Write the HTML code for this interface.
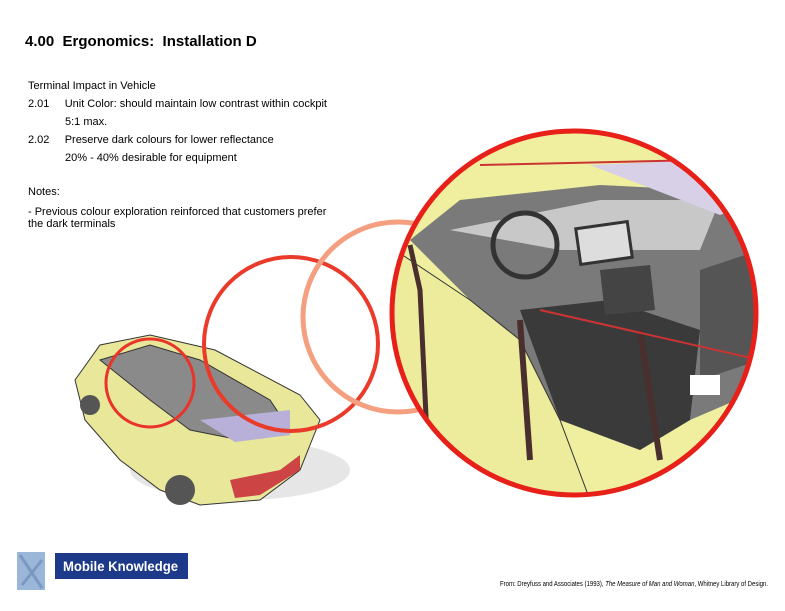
<!DOCTYPE html>
<html><head><meta charset="utf-8"><style>
body{margin:0;width:785px;height:611px;background:#fff;position:relative;overflow:hidden;font-family:"Liberation Sans",sans-serif;color:#000}
.t{position:absolute;font-size:11px;white-space:nowrap}
</style></head><body>
<div class="t" style="left:25px;top:33px;font-size:15px;font-weight:bold">4.00&nbsp; Ergonomics:&nbsp; Installation D</div>
<div class="t" style="left:28px;top:80px">Terminal Impact in Vehicle</div>
<div class="t" style="left:28px;top:98px">2.01&nbsp;&nbsp;&nbsp;&nbsp; Unit Color: should maintain low contrast within cockpit</div>
<div class="t" style="left:65px;top:116px">5:1 max.</div>
<div class="t" style="left:28px;top:134px">2.02&nbsp;&nbsp;&nbsp;&nbsp; Preserve dark colours for lower reflectance</div>
<div class="t" style="left:65px;top:152px">20% - 40% desirable for equipment</div>
<div class="t" style="left:28px;top:186px">Notes:</div>
<div class="t" style="left:28px;top:206px">- Previous colour exploration reinforced that customers prefer</div>
<div class="t" style="left:28px;top:218px">the dark terminals</div>
<svg width="785" height="611" style="position:absolute;left:0;top:0">
<defs><clipPath id="c"><circle cx="574" cy="313" r="182"/></clipPath></defs>
<ellipse cx="240" cy="470" rx="110" ry="30" fill="#e6e6e6"/>
<path d="M75,380 L100,345 L150,335 L215,350 L300,395 L320,420 L300,470 L260,500 L200,505 L160,490 L120,460 L85,420 Z" fill="#e8e79a" stroke="#333" stroke-width="1"/>
<path d="M100,360 L150,345 L200,360 L270,400 L290,430 L240,440 L190,430 L150,400 Z" fill="#8a8a8a" stroke="#333"/>
<path d="M200,420 L290,410 L290,435 L235,442 Z" fill="#b8b0d8"/>
<path d="M230,480 L280,470 L300,455 L300,470 L260,495 L235,498 Z" fill="#c44" />
<circle cx="180" cy="490" r="15" fill="#555"/><circle cx="90" cy="405" r="10" fill="#555"/>
<circle cx="150" cy="383" r="44" fill="none" stroke="#e8342a" stroke-width="3"/>
<circle cx="291" cy="344" r="87" fill="none" stroke="#ea3a2a" stroke-width="4"/>
<circle cx="398" cy="317" r="95" fill="none" stroke="#f4a080" stroke-width="5"/>
<g clip-path="url(#c)">
<rect x="390" y="130" width="370" height="370" fill="#efef9f"/>
<path d="M410,240 L460,200 L600,185 L700,190 L760,210 L760,390 L690,420 L640,450 L560,420 L520,340 L470,300 Z" fill="#7a7a7a"/>
<path d="M450,230 L600,200 L720,200 L700,250 L560,250 Z" fill="#c8c8c8"/>
<path d="M590,165 L700,160 L760,200 L720,215 Z" fill="#d8d0e6"/>
<path d="M520,310 L610,300 L700,330 L690,420 L640,450 L560,420 Z" fill="#3a3a3a"/>
<path d="M600,270 L650,265 L655,310 L605,315 Z" fill="#444"/>
<path d="M700,270 L760,250 L760,360 L700,380 Z" fill="#555"/>
<rect x="578" y="225" width="52" height="36" fill="#ddd" stroke="#333" stroke-width="3" transform="rotate(-8 604 243)"/>
<circle cx="525" cy="245" r="32" fill="none" stroke="#333" stroke-width="5"/>
<path d="M395,250 L470,300 L520,340 L560,420 L590,500 L390,500 Z" fill="#ecec9c" stroke="#333"/>
<path d="M410,245 L420,290 L430,500" stroke="#4a2f2f" stroke-width="5" fill="none"/>
<path d="M520,320 L530,460" stroke="#4a2f2f" stroke-width="6"/>
<path d="M640,330 L660,460" stroke="#4a2f2f" stroke-width="6"/>
<path d="M540,310 L760,360" stroke="#c33" stroke-width="2"/>
<path d="M480,165 L700,160 L760,200" stroke="#c33" stroke-width="2" fill="none"/>
<rect x="690" y="375" width="30" height="20" fill="#fff"/>
</g>
<circle cx="574" cy="313" r="182" fill="none" stroke="#e8201a" stroke-width="5"/>
<rect x="17" y="552" width="28" height="38" fill="#9ab6d8"/>
<path d="M20,555 L42,588 M42,560 L22,585" stroke="#7a98c0" stroke-width="3"/>
<rect x="55" y="553" width="133" height="26" fill="#1d3a8a"/>
<text x="63" y="571" fill="#fff" font-family="Liberation Sans" font-weight="bold" font-size="14" textLength="115" lengthAdjust="spacingAndGlyphs">Mobile Knowledge</text>
<text x="500" y="586" font-family="Liberation Sans" font-size="7.5" fill="#000" textLength="268" lengthAdjust="spacingAndGlyphs">From: Dreyfuss and Associates (1993), <tspan font-style="italic">The Measure of Man and Woman</tspan>, Whitney Library of Design.</text>
</svg>
</body></html>
